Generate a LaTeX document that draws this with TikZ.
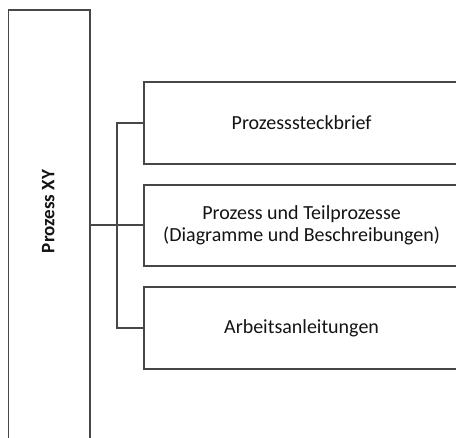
\documentclass[tikz,border=0pt]{standalone}
\usepackage{fontspec}
\setmainfont{Carlito}
\begin{document}
\begin{tikzpicture}[x=1pt,y=-1pt,
  frame/.style={draw=black!72,line width=1.6pt,fill=white,inner sep=0pt},
  entry/.style={frame,minimum width=315pt,minimum height=81.5pt,
    align=center,font=\fontsize{20}{21.7}\selectfont,text=black!92},
  link/.style={draw=black!72,line width=1.6pt}]
\clip (0,0) rectangle (456,438);
\fill[white] (0,0) rectangle (456,438);
% main process column (bottom runs off the page)
\node[frame,minimum width=81.8pt,minimum height=432pt,anchor=north west]
  (main) at (7.5,9.3) {};
\node[rotate=90,font=\bfseries\fontsize{19}{21.7}\selectfont,text=black!92]
  (title) at (48.4,211.5) {Prozess XY};
% document boxes (right sides run off the page)
\node[entry,anchor=west] (b1) at (143.3,123) {Prozesssteckbrief};
\node[entry,anchor=west] (b2) at (143.3,225.5)
  {Prozess und Teilprozesse\\(Diagramme und Beschreibungen)};
\node[entry,anchor=west] (b3) at (143.3,328) {Arbeitsanleitungen};
% connectors
\coordinate (bus) at (116.7,225);
\draw[link] (main.east |- bus) -- (b2.west |- bus);
\draw[link] (b1.west) -| (bus) |- (b3.west);
\end{tikzpicture}
\end{document}
